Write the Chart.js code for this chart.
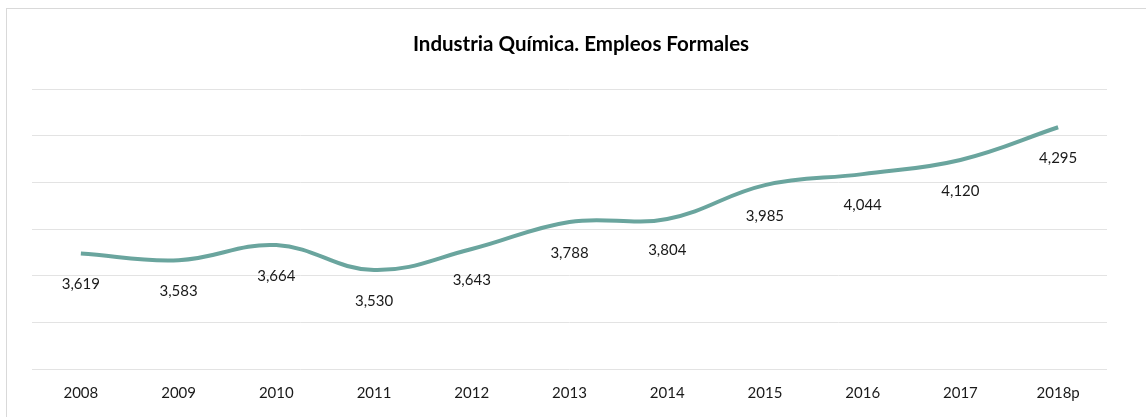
<!DOCTYPE html>
<html>
<head>
<meta charset="utf-8">
<script src="https://cdn.jsdelivr.net/npm/chart.js@4/dist/chart.umd.min.js"></script>
<style>
    html, body { margin: 0; padding: 0; background: #fff; overflow: hidden; }
    #frame { position: absolute; left: 6px; top: 8px; width: 1200px; height: 500px; border: 1px solid #d9d9d9; }
    #wrap { position: absolute; left: 0; top: 0; width: 1146px; height: 417px; }
</style>
</head>
<body>
<div id="frame"></div>
<div id="wrap"><canvas id="chart"></canvas></div>
<script>
// Data
const years = ['2008', '2009', '2010', '2011', '2012', '2013', '2014', '2015', '2016', '2017', '2018p'];
const empleos = [3619, 3583, 3664, 3530, 3643, 3788, 3804, 3985, 4044, 4120, 4295];
const yMin = 3000;
const yMax = 4500;
const yStep = 250;
const chartTitle = 'Industria Química. Empleos Formales';

const lineColor = '#6aa59e';
const fontFamily = 'Lato, "Open Sans", sans-serif';

// Title drawn by hand so it sits where the original does
const titlePlugin = {
    id: 'titlePlugin',
    afterDraw(chart) {
        const ctx = chart.ctx;
        ctx.save();
        ctx.font = 'bold 20.5px ' + fontFamily;
        ctx.fillStyle = '#000';
        ctx.textAlign = 'center';
        ctx.textBaseline = 'middle';
        ctx.fillText(chartTitle, 581, 44);
        ctx.restore();
    }
};

// Value labels under each point
const valueLabels = {
    id: 'valueLabels',
    afterDatasetsDraw(chart) {
        const ctx = chart.ctx;
        const meta = chart.getDatasetMeta(0);
        ctx.save();
        ctx.font = '15px ' + fontFamily;
        ctx.fillStyle = '#1a1a1a';
        ctx.textAlign = 'center';
        ctx.textBaseline = 'middle';
        meta.data.forEach((pt, i) => {
            ctx.fillText(empleos[i].toLocaleString('en-US'), pt.x, pt.y + 31);
        });
        ctx.restore();
    }
};

const ctx = document.getElementById('chart').getContext('2d');
new Chart(ctx, {
    type: 'line',
    data: {
        labels: years,
        datasets: [{
            label: 'Empleos Formales',
            data: empleos,
            borderColor: lineColor,
            borderWidth: 4,
            tension: 0.4,
            pointRadius: 0,
            fill: false
        }]
    },
    options: {
        responsive: true,
        maintainAspectRatio: false,
        animation: false,
        layout: {
            padding: { left: 32, right: 39, top: 89, bottom: 0 }
        },
        plugins: {
            legend: { display: false },
            tooltip: { enabled: false },
            title: { display: false }
        },
        scales: {
            x: {
                offset: true,
                grid: { display: false, drawTicks: false },
                border: { display: false },
                ticks: {
                    color: '#1a1a1a',
                    font: { family: fontFamily, size: 15 },
                    padding: 15,
                    maxRotation: 0
                }
            },
            y: {
                min: yMin,
                max: yMax,
                grid: { color: '#e3e3e3', lineWidth: 1, drawTicks: false },
                border: { display: false },
                ticks: { display: false, stepSize: yStep }
            }
        }
    },
    plugins: [valueLabels, titlePlugin]
});
</script>
</body>
</html>
